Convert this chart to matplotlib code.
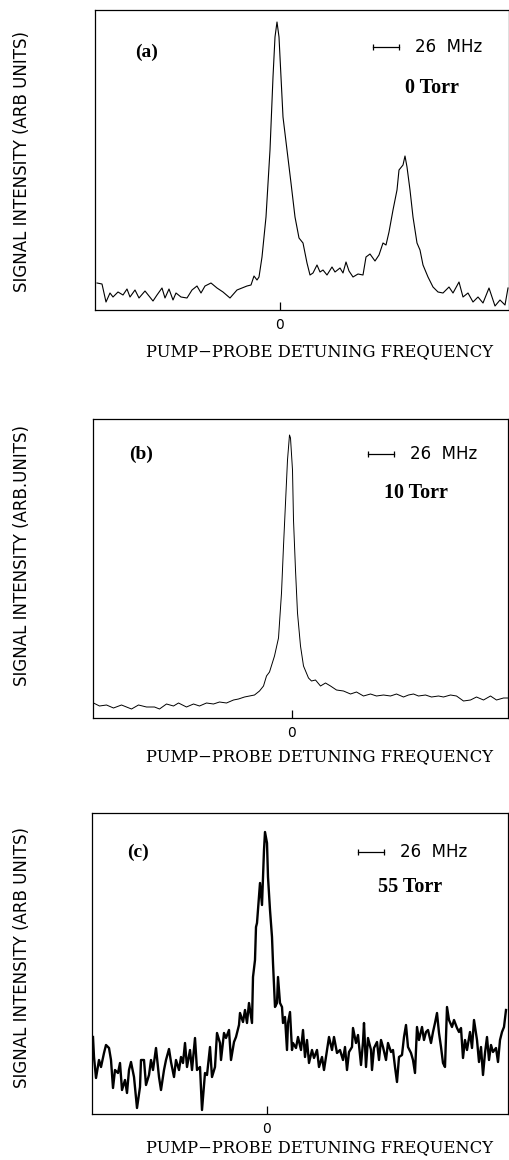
import matplotlib
matplotlib.use('Agg')
import matplotlib.pyplot as plt
from matplotlib import font_manager

# --------------------------------------------------------------------------
# data (x: detuning in MHz, y: arb. units)
freq_a = [-183, -178, -174, -170, -167, -162, -157, -153, -150, -145,
          -141, -135, -127, -123, -118, -115, -111, -107, -104, -99,
          -93, -88, -83, -79, -75, -69, -63, -57, -50, -43,
          -38, -33, -29, -26, -23, -21, -18, -14, -10, -7,
          -5, -3, -1, 1, 3, 7, 11, 15, 19, 23,
          27, 30, 33, 37, 40, 43, 47, 52, 55, 60,
          63, 66, 69, 73, 78, 83, 86, 90, 95, 99,
          103, 106, 109, 113, 117, 119, 123, 125, 127, 130,
          133, 137, 140, 143, 148, 153, 158, 163, 169, 173,
          179, 183, 188, 193, 198, 203, 209, 215, 220, 225,
          228]
sig_a = [27, 26, 8, 17, 13, 18, 15, 21, 13, 20,
         12, 19, 9, 15, 22, 12, 21, 10, 17, 13,
         12, 20, 24, 17, 24, 27, 22, 18, 12, 20,
         22, 24, 25, 34, 30, 33, 53, 93, 160, 233,
         273, 288, 273, 233, 193, 160, 127, 93, 72, 67,
         47, 35, 37, 45, 38, 40, 35, 43, 38, 42,
         37, 48, 39, 33, 36, 35, 53, 56, 49, 55,
         67, 65, 78, 100, 120, 140, 145, 154, 143, 120,
         93, 67, 60, 45, 33, 23, 18, 17, 23, 17,
         28, 13, 17, 8, 13, 7, 22, 4, 10, 5,
         22]

freq_b = [-198, -192, -185, -178, -170, -160, -153, -145, -137, -132,
          -125, -118, -113, -105, -98, -92, -85, -78, -72, -65,
          -58, -53, -47, -42, -37, -32, -28, -25, -22, -17,
          -13, -10, -8, -6, -4, -2, -1, 1, 2, 4,
          6, 9, 12, 17, 20, 24, 29, 34, 39, 45,
          52, 59, 65, 72, 79, 85, 92, 99, 105, 112,
          117, 122, 127, 134, 140, 147, 152, 159, 165, 172,
          179, 185, 192, 199, 205, 212, 216]
sig_b = [15, 12, 13, 10, 13, 9, 13, 11, 11, 9,
         14, 12, 15, 11, 14, 12, 15, 14, 16, 15,
         18, 19, 21, 22, 23, 27, 32, 42, 46, 62,
         80, 125, 172, 215, 258, 283, 280, 248, 198, 148,
         105, 72, 52, 40, 37, 38, 32, 35, 32, 28,
         27, 24, 26, 22, 24, 22, 23, 22, 24, 21,
         23, 24, 22, 23, 21, 22, 21, 23, 22, 17,
         18, 21, 18, 22, 18, 20, 20]

freq_c = [-174, -173, -171, -168, -166, -163, -161, -158, -156, -154,
          -152, -149, -147, -145, -142, -140, -138, -136, -133, -132,
          -130, -127, -126, -123, -121, -118, -116, -114, -111, -108,
          -106, -103, -101, -98, -96, -93, -91, -88, -86, -84,
          -82, -80, -77, -75, -72, -70, -67, -65, -62, -60,
          -57, -55, -52, -50, -47, -46, -43, -41, -38, -36,
          -33, -31, -28, -27, -24, -22, -20, -18, -15, -14,
          -12, -11, -10, -9, -7, -5, -4, -3, -2, 0,
          1, 3, 5, 6, 8, 10, 11, 13, 15, 16,
          18, 20, 21, 23, 25, 26, 29, 31, 34, 36,
          38, 40, 42, 45, 47, 50, 52, 55, 57, 60,
          62, 65, 67, 70, 73, 76, 78, 80, 82, 85,
          86, 89, 91, 94, 96, 97, 99, 101, 104, 105,
          107, 110, 112, 114, 116, 119, 121, 124, 126, 128,
          130, 132, 135, 137, 139, 141, 144, 146, 148, 150,
          152, 155, 157, 159, 161, 164, 166, 168, 170, 172,
          174, 176, 178, 180, 182, 185, 187, 190, 192, 194,
          196, 198, 200, 203, 205, 207, 210, 212, 214, 216,
          218, 220, 222, 224, 226, 229, 231, 233, 235, 237,
          239]
sig_c = [77, 57, 36, 54, 47, 61, 69, 66, 54, 26,
         44, 41, 51, 24, 34, 21, 44, 52, 37, 27,
         6, 27, 54, 54, 29, 39, 54, 44, 66, 37,
         24, 44, 54, 65, 52, 37, 54, 44, 57, 51,
         71, 47, 64, 44, 76, 44, 47, 4, 41, 39,
         67, 37, 47, 81, 71, 54, 81, 76, 84, 54,
         72, 77, 89, 101, 92, 104, 91, 111, 91, 137,
         154, 187, 191, 204, 231, 209, 237, 264, 282, 271,
         237, 204, 177, 151, 107, 111, 137, 111, 107, 91,
         97, 64, 91, 102, 64, 71, 66, 77, 64, 84,
         57, 74, 51, 64, 56, 64, 47, 57, 44, 64,
         77, 64, 77, 61, 64, 54, 67, 44, 62, 67,
         86, 71, 79, 49, 72, 91, 47, 76, 64, 44,
         66, 72, 54, 74, 67, 54, 71, 62, 64, 47,
         32, 57, 59, 77, 89, 67, 61, 54, 41, 87,
         74, 87, 74, 82, 84, 71, 82, 91, 101, 81,
         67, 51, 47, 107, 94, 87, 94, 86, 82, 86,
         56, 74, 64, 82, 66, 94, 74, 52, 67, 39,
         61, 77, 54, 69, 62, 66, 52, 74, 82, 87,
         104]

panel_tags = ['(a)', '(b)', '(c)']
pressures = ['0 Torr', '10 Torr', '55 Torr']
ylabels = ['SIGNAL INTENSITY (ARB UNITS)', 'SIGNAL INTENSITY (ARB.UNITS)',
           'SIGNAL INTENSITY (ARB UNITS)']
xlabel = 'PUMP\u2212PROBE DETUNING FREQUENCY'
scale_mhz = 26

# --------------------------------------------------------------------------
names = {f.name for f in font_manager.fontManager.ttflist}
narrow = 'Liberation Sans Narrow' if 'Liberation Sans Narrow' in names else 'DejaVu Sans'

W, H = 510, 1160
fig = plt.figure(figsize=(W / 100, H / 100), dpi=100)

# layout in pixels: left, right, top, bottom, tick (px), line width
layout = [
    dict(l=95, r=509, t=10, b=310, tick=280, lw=0.8, xl=33,
         tag=(-133, 258), bar=(93, 263), torr=(125, 222), ylab=162),
    dict(l=93, r=508, t=419, b=718, tick=291.5, lw=0.7, xl=30,
         tag=(-150, 264), bar=(76, 264), torr=(92, 225), ylab=555),
    dict(l=92, r=508, t=813, b=1114, tick=267, lw=1.7, xl=25,
         tag=(-129, 262), bar=(91, 262), torr=(111, 227), ylab=957),
]
traces = [(freq_a, sig_a), (freq_b, sig_b), (freq_c, sig_c)]

for i, (p, (fx, sy)) in enumerate(zip(layout, traces)):
    ax = fig.add_axes([p['l'] / W, 1 - p['b'] / H,
                       (p['r'] - p['l']) / W, (p['b'] - p['t']) / H])
    ax.plot(fx, sy, color='black', lw=p['lw'])
    ax.set_xlim(p['l'] - p['tick'], p['r'] - p['tick'])
    ax.set_ylim(0, p['b'] - p['t'])
    ax.set_yticks([])
    ax.set_xticks([0])
    ax.set_xticklabels(['0'])
    ax.tick_params(axis='x', direction='in', length=6, width=0.9, pad=6,
                   labelsize=10)
    for s in ax.spines.values():
        s.set_linewidth(0.9)

    # panel letter and pressure
    ax.text(p['tag'][0], p['tag'][1], panel_tags[i], ha='center', va='center',
            family='Liberation Serif', fontweight='bold', fontsize=14)
    ax.text(p['torr'][0], p['torr'][1], pressures[i], ha='left', va='center',
            family='Liberation Serif', fontweight='bold', fontsize=14.5)

    # 26 MHz scale bar
    x0, yb = p['bar']
    ax.plot([x0, x0 + scale_mhz], [yb, yb], color='black', lw=0.9,
            marker='|', markersize=4, markeredgewidth=0.9)
    ax.text(x0 + scale_mhz + 16, yb, '26  MHz', ha='left', va='center',
            family='DejaVu Sans', fontsize=12)

    # axis titles
    ax.set_xlabel(xlabel, family='DejaVu Serif', fontsize=11.8)
    ax.xaxis.set_label_coords((320 - p['l']) / (p['r'] - p['l']),
                              -p['xl'] / (p['b'] - p['t']))
    fig.text(22 / W, 1 - p['ylab'] / H, ylabels[i], rotation=90,
             ha='center', va='center', family=narrow, fontsize=12)

fig.savefig('out.png', dpi=100)
